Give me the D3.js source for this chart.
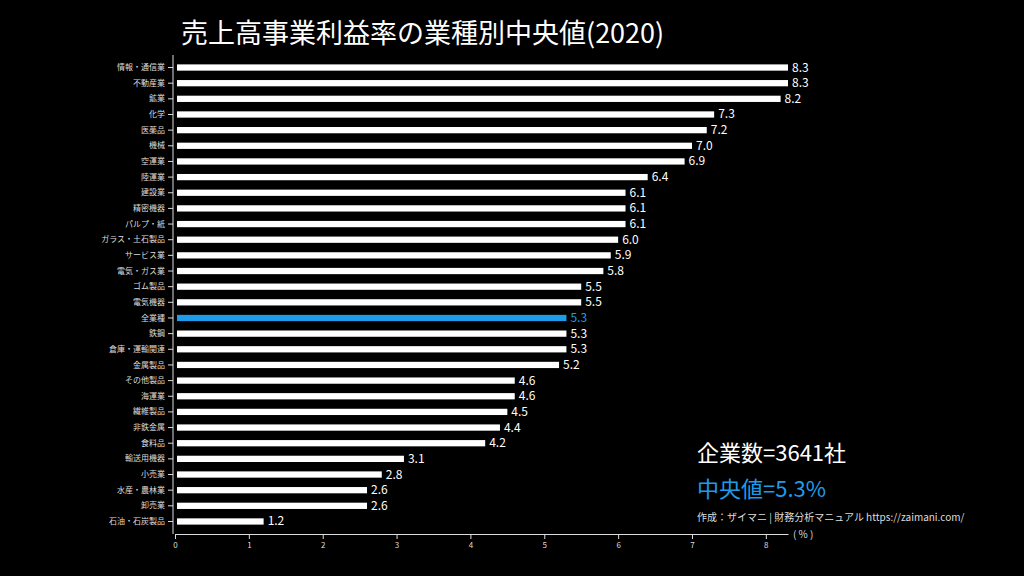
<!DOCTYPE html>
<html><head><meta charset="utf-8">
<script src="https://cdn.jsdelivr.net/npm/d3@7"></script>
<style>body{margin:0;background:#000}</style>
</head><body>
<script>
var categories = ["情報・通信業","不動産業","鉱業","化学","医薬品","機械","空運業","陸運業","建設業","精密機器","パルプ・紙","ガラス・土石製品","サービス業","電気・ガス業","ゴム製品","電気機器","全業種","鉄鋼","倉庫・運輸関連","金属製品","その他製品","海運業","繊維製品","非鉄金属","食料品","輸送用機器","小売業","水産・農林業","卸売業","石油・石炭製品"];
var values = [8.3,8.3,8.2,7.3,7.2,7.0,6.9,6.4,6.1,6.1,6.1,6.0,5.9,5.8,5.5,5.5,5.3,5.3,5.3,5.2,4.6,4.6,4.5,4.4,4.2,3.1,2.8,2.6,2.6,1.2];
var xTicks = [0,1,2,3,4,5,6,7,8];
var highlight = "全業種";
var blue = "#1e9be9";
var font = "'Noto Sans CJK JP', sans-serif";

var svg = d3.select("body").append("svg").attr("width",1024).attr("height",576)
  .style("background","#000").style("font-family",font);

var x = d3.scaleLinear().domain([0,8.3]).range([175,788]);
var y = d3.scaleBand().domain(categories).range([55,534]).padding(0.6);

svg.append("text").attr("x",181).attr("y",43).attr("fill","#fff")
  .style("font-size","27px").text("売上高事業利益率の業種別中央値(2020)");

var xa = svg.append("g").attr("transform","translate(0,534)")
  .call(d3.axisBottom(x).tickValues(xTicks).tickFormat(d3.format("d")).tickSize(5).tickSizeOuter(0));
var ya = svg.append("g").attr("transform","translate(173,0)")
  .call(d3.axisLeft(y).tickSize(5).tickSizeOuter(0));
[xa,ya].forEach(function(a){
  a.selectAll("path,line").attr("stroke","#ddd");
  a.selectAll("text").attr("fill","#ddd").style("font-size","8px").style("font-family",font);
});
ya.select(".domain").attr("d","M0,55V534");

svg.selectAll("rect.bar").data(values).enter().append("rect")
  .attr("x",x(0)+2).attr("y",function(d,i){return y(categories[i]);})
  .attr("width",function(d){return x(d)-x(0)-2;}).attr("height",y.bandwidth())
  .attr("fill",function(d,i){return categories[i]===highlight?blue:"#fff";});

svg.selectAll("text.val").data(values).enter().append("text")
  .attr("x",function(d){return x(d)+4;}).attr("y",function(d,i){return y(categories[i])+y.bandwidth()/2+4;})
  .attr("fill",function(d,i){return categories[i]===highlight?blue:"#fff";})
  .style("font-size","12px").text(function(d){return d.toFixed(1);});

svg.append("text").attr("x",697).attr("y",461).attr("fill","#fff").style("font-size","22px").text("企業数=3641社");
svg.append("text").attr("x",697).attr("y",497).attr("fill",blue).style("font-size","22px").text("中央値=5.3%");
svg.append("text").attr("x",697).attr("y",521).attr("fill","#ddd").style("font-size","10px").text("作成：ザイマニ | 財務分析マニュアル https://zaimani.com/");
svg.append("text").attr("x",793).attr("y",538).attr("fill","#ddd").style("font-size","10px").text("( % )");
</script>
</body></html>
